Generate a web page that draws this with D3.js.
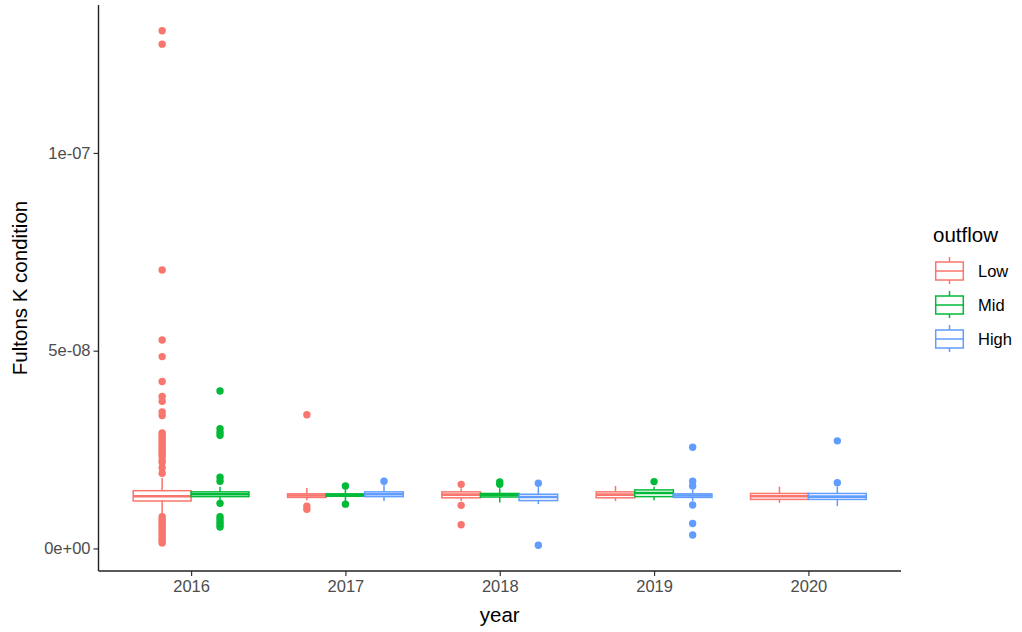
<!DOCTYPE html>
<html lang="en">
<head>
    <meta charset="UTF-8">
    <title>Fultons K condition by year</title>
    <style>
        body {
            margin: 0;
            background: #fff;
            font-family: "Liberation Sans", Arial, sans-serif;
        }
        .tick-label {
            fill: #4d4d4d;
            font-size: 16.5px;
        }
        .axis-title {
            fill: #000;
            font-size: 20.5px;
        }
    </style>
</head>
<body>
    <svg width="1022" height="632"></svg>
    <script src="https://d3js.org/d3.v7.min.js"></script>
    <script>
        // values are in units of 1e-8
        const years = ["2016", "2017", "2018", "2019", "2020"];
        const outflows = ["Low", "Mid", "High"];
        const colors = ["#F8766D", "#00BA38", "#619CFF"];
        const yTicks = [0, 5e-8, 1e-7];

        const boxYear = ["2016", "2016", "2017", "2017", "2017", "2018", "2018", "2018", "2019", "2019", "2019", "2020", "2020"];
        const boxOutflow = ["Low", "Mid", "Low", "Mid", "High", "Low", "Mid", "High", "Low", "Mid", "High", "Low", "High"];
        const whiskerLow = [0.83, 1.20, 1.22, 1.20, 1.20, 1.20, 1.16, 1.12, 1.20, 1.22, 1.20, 1.15, 1.07];
        const quart1 = [1.20, 1.31, 1.29, 1.32, 1.31, 1.28, 1.30, 1.21, 1.28, 1.31, 1.29, 1.24, 1.24];
        const medians = [1.32, 1.37, 1.34, 1.35, 1.37, 1.36, 1.35, 1.30, 1.36, 1.40, 1.34, 1.32, 1.31];
        const quart3 = [1.46, 1.43, 1.38, 1.38, 1.43, 1.43, 1.39, 1.37, 1.43, 1.48, 1.38, 1.39, 1.39];
        const whiskerHigh = [1.78, 1.56, 1.53, 1.50, 1.60, 1.52, 1.52, 1.55, 1.58, 1.56, 1.48, 1.56, 1.56];
        const outliers = [
            [13.09, 12.75, 7.04, 5.27, 4.85, 4.22, 3.84, 3.72, 3.45, 3.36,
             2.92, 2.86, 2.80, 2.74, 2.68, 2.62, 2.56, 2.50, 2.44, 2.38, 2.32, 2.22, 2.17, 2.04, 1.90,
             0.80, 0.74, 0.68, 0.62, 0.56, 0.50, 0.44, 0.38, 0.32, 0.26, 0.20, 0.14],
            [3.98, 3.03, 2.94, 2.86, 1.80, 1.70, 1.14, 0.80, 0.73, 0.66, 0.60, 0.54],
            [3.38, 1.07, 0.99],
            [1.58, 1.12],
            [1.70],
            [1.62, 1.09, 0.60],
            [1.68, 1.62],
            [1.65, 0.08],
            [],
            [1.69],
            [2.56, 1.70, 1.58, 1.10, 0.63, 0.34],
            [],
            [2.72, 1.66]
        ];

        const svg = d3.select("svg");
        const panel = {left: 98.5, right: 901, top: 5, bottom: 571};
        const unit = 1e-8;

        const color = d3.scaleOrdinal().domain(outflows).range(colors);

        const x = d3.scalePoint()
            .domain(years)
            .range([panel.left, panel.right])
            .padding(0.6);

        const allValues = outliers.flat().concat(whiskerLow, whiskerHigh).map(v => v * unit);
        const [ymin, ymax] = d3.extent(allValues);
        const pad = (ymax - ymin) * 0.05;
        const y = d3.scaleLinear()
            .domain([ymin - pad, ymax + pad])
            .range([panel.bottom, panel.top]);

        const fmt = v => {
            if (v === 0) return "0e+00";
            const [m, e] = v.toExponential(0).split("e");
            const n = Math.abs(+e);
            return m + "e" + (+e < 0 ? "-" : "+") + String(n).padStart(2, "0");
        };

        // dodge boxes within each year
        const boxes = boxYear.map((yr, i) => {
            const present = outflows.filter(o => boxYear.some((y2, j) => y2 === yr && boxOutflow[j] === o));
            const cx = x(yr);
            const half = x.step() * 0.375;
            const band = d3.scaleBand().domain(present).range([cx - half, cx + half]);
            return {
                outflow: boxOutflow[i],
                x0: band(boxOutflow[i]),
                w: band.bandwidth(),
                lo: whiskerLow[i] * unit,
                q1: quart1[i] * unit,
                med: medians[i] * unit,
                q3: quart3[i] * unit,
                hi: whiskerHigh[i] * unit,
                out: outliers[i].map(v => v * unit)
            };
        });

        const g = svg.append("g");

        boxes.forEach(b => {
            const c = color(b.outflow);
            const mid = b.x0 + b.w / 2;
            const bg = g.append("g");
            bg.selectAll("circle")
                .data(b.out)
                .join("circle")
                .attr("cx", mid)
                .attr("cy", d => y(d))
                .attr("r", 3.7)
                .attr("fill", c);
            bg.append("line")
                .attr("x1", mid).attr("x2", mid)
                .attr("y1", y(b.hi)).attr("y2", y(b.q3))
                .attr("stroke", c).attr("stroke-width", 1.5);
            bg.append("line")
                .attr("x1", mid).attr("x2", mid)
                .attr("y1", y(b.q1)).attr("y2", y(b.lo))
                .attr("stroke", c).attr("stroke-width", 1.5);
            bg.append("rect")
                .attr("x", b.x0)
                .attr("y", y(b.q3))
                .attr("width", b.w)
                .attr("height", y(b.q1) - y(b.q3))
                .attr("fill", "#fff")
                .attr("stroke", c)
                .attr("stroke-width", 1.5);
            bg.append("line")
                .attr("x1", b.x0).attr("x2", b.x0 + b.w)
                .attr("y1", y(b.med)).attr("y2", y(b.med))
                .attr("stroke", c).attr("stroke-width", 2.6);
        });

        // axes (classic theme: lines on left and bottom only)
        const yAxis = svg.append("g")
            .attr("transform", `translate(${panel.left},0)`)
            .call(d3.axisLeft(y).tickValues(yTicks).tickSize(5).tickPadding(3).tickFormat(fmt));
        yAxis.select(".domain").remove();
        yAxis.selectAll(".tick line").attr("stroke", "#333").attr("stroke-width", 1.2);
        yAxis.selectAll(".tick text").attr("class", "tick-label").attr("font-family", null).attr("font-size", null);

        const xAxis = svg.append("g")
            .attr("transform", `translate(0,${panel.bottom})`)
            .call(d3.axisBottom(x).tickSize(5).tickPadding(4));
        xAxis.select(".domain").remove();
        xAxis.selectAll(".tick line").attr("stroke", "#333").attr("stroke-width", 1.2);
        xAxis.selectAll(".tick text").attr("class", "tick-label").attr("font-family", null).attr("font-size", null);

        svg.append("line")
            .attr("x1", panel.left).attr("x2", panel.left)
            .attr("y1", panel.top).attr("y2", panel.bottom)
            .attr("stroke", "#222").attr("stroke-width", 1.4);
        svg.append("line")
            .attr("x1", panel.left).attr("x2", panel.right)
            .attr("y1", panel.bottom).attr("y2", panel.bottom)
            .attr("stroke", "#222").attr("stroke-width", 1.4);

        svg.append("text")
            .attr("class", "axis-title")
            .attr("x", (panel.left + panel.right) / 2)
            .attr("y", 622)
            .attr("text-anchor", "middle")
            .text("year");

        svg.append("text")
            .attr("class", "axis-title")
            .attr("transform", `translate(27,${(panel.top + panel.bottom) / 2}) rotate(-90)`)
            .attr("text-anchor", "middle")
            .text("Fultons K condition");

        // legend
        const legend = svg.append("g").attr("transform", "translate(933,0)");
        legend.append("text")
            .attr("class", "axis-title")
            .attr("x", 0)
            .attr("y", 242)
            .text("outflow");

        outflows.forEach((o, i) => {
            const cy = 271 + i * 34;
            const c = color(o);
            const k = legend.append("g").attr("transform", `translate(16.5,${cy})`);
            k.append("line")
                .attr("x1", 0).attr("x2", 0).attr("y1", -14).attr("y2", 13)
                .attr("stroke", c).attr("stroke-width", 1.5);
            k.append("rect")
                .attr("x", -13.8).attr("y", -9).attr("width", 27.6).attr("height", 18)
                .attr("fill", "#fff").attr("stroke", c).attr("stroke-width", 1.5);
            k.append("line")
                .attr("x1", -13.8).attr("x2", 13.8).attr("y1", 0).attr("y2", 0)
                .attr("stroke", c).attr("stroke-width", 1.5);
            legend.append("text")
                .attr("class", "tick-label")
                .attr("x", 45)
                .attr("y", cy + 6)
                .style("fill", "#000")
                .text(o);
        });
    </script>
</body>
</html>
